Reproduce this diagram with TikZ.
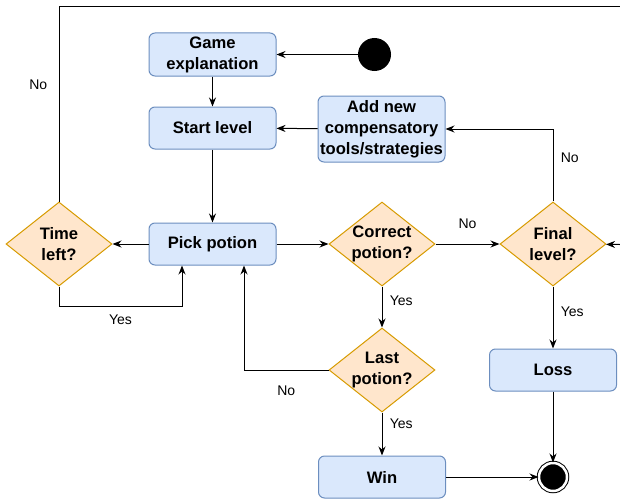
\documentclass[tikz,border=0pt]{standalone}
\usepackage{fontspec}
\setmainfont{Liberation Sans}
\usepackage{tikz}
\usetikzlibrary{positioning, shapes.geometric, arrows.meta}
\definecolor{boxfill}{HTML}{DAE8FC}
\definecolor{boxline}{HTML}{6C8EBF}
\definecolor{askfill}{HTML}{FFE6CC}
\definecolor{askline}{HTML}{D79B00}
\newcommand{\nodefont}{\fontsize{16.6pt}{21pt}\selectfont\bfseries}
\newcommand{\edgefont}{\fontsize{14pt}{16pt}\selectfont}
\tikzset{box/.style = {draw=boxline, fill=boxfill, rounded corners=6pt, minimum width=127pt, minimum height=42pt, inner sep=1pt, align=center, font=\nodefont}}
\tikzset{ask/.style = {draw=askline, fill=askfill, diamond, aspect=1.26, minimum width=106pt, minimum height=84pt, inner sep=-1pt, align=center, font=\nodefont}}
\tikzset{initstate/.style = {circle, fill=black, minimum size=33pt, inner sep=0pt}}
\tikzset{endstate/.style = {circle, fill=black, draw=black, double=white, double distance=2.5pt, minimum size=28pt, inner sep=0pt}}
\tikzset{answer/.style = {font=\edgefont}}

\begin{document}
\begin{tikzpicture}[x=1pt, y=-1pt, >={Stealth[length=9pt, width=7pt]}, line width=1pt]
  \useasboundingbox (0,0) rectangle (620,503);
  \node [box, minimum height=43pt] (game) at (212.5,54.5) {Game\\explanation};
  \node [box, below=30pt of game] (start) {Start level};
  \node [box, below=73pt of start] (pick) {Pick potion};
  \node [initstate, right=81pt of game] (init) {};
  \node [box, minimum height=66pt] (addnew) at (381.5,129) {Add new\\compensatory\\tools/strategies};
  \node [ask, left=36pt of pick] (time) {Time\\left?};
  \node [ask, right=52pt of pick] (correct) {Correct\\potion?};
  \node [ask, right=64pt of correct] (final) {Final\\level?};
  \node [ask, below=41pt of correct] (last) {Last\\potion?};
  \node [box, below=43pt of last] (win) {Win};
  \node [box, below=62pt of final] (loss) {Loss};
  \node [endstate] (endc) at (loss |- win) {};
  \coordinate (topright) at (620,7);
  \coordinate (rightin) at (620,244.5);

  \draw[->] (init) -- (game);
  \draw[->] (game) -- (start);
  \draw[->] (start) -- (pick);
  \draw[->] (addnew) -- (start);
  \draw[->] (pick) -- (time);
  \draw[->] (pick) -- (correct);

  \draw[->] (correct) -- node [answer, above=12pt] {No} (final);
  \draw[->] (correct) -- node [answer, pos=0.35, right=4pt] {Yes} (last);
  \draw[->] (final) |- node [answer, pos=0.3, right=4pt] {No} (addnew);
  \draw[->] (final) -- node [answer, pos=0.41, right=4pt] {Yes} (loss);
  \draw[->] (rightin) -- (final);

  \draw[->] (last.west) -| node [answer, pos=0.25, below=12pt] {No} ([xshift=31.5pt]pick.south);
  \draw[->] (last) -- node [answer, pos=0.27, right=4pt] {Yes} (win);
  \draw[->] (win) -- (endc);
  \draw[->] (loss) -- (endc);

  \draw[->] (time.south) -- ++(0,20) -| node [answer, pos=0.25, below=5pt] {Yes} ([xshift=-30.5pt]pick.south);
  \draw (time.north) |- node [answer, pos=0.3, left=8pt] {No} (topright);
\end{tikzpicture}
\end{document}
